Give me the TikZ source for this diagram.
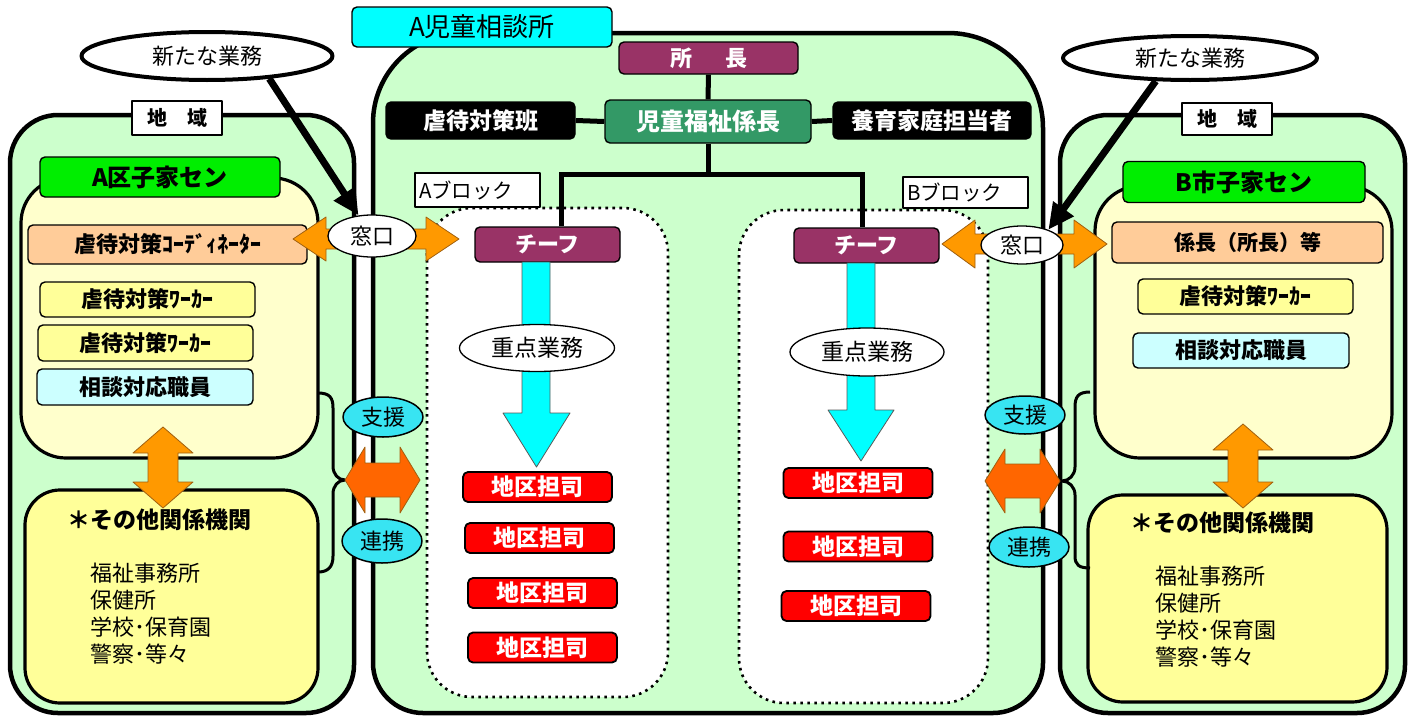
\documentclass[tikz,border=0pt]{standalone}
\usepackage{fontspec}
\setmainfont{Noto Sans CJK JP}
\usetikzlibrary{shapes.geometric,arrows.meta}
\definecolor{pgreen}{HTML}{CCFFCC}
\definecolor{pyellow}{HTML}{FFFFCC}
\definecolor{dyellow}{HTML}{FFFF99}
\definecolor{lcyan}{HTML}{CCFFFF}
\definecolor{peach}{HTML}{FFCC99}
\definecolor{lgreen}{HTML}{00EE00}
\definecolor{aqua}{HTML}{00FFFF}
\definecolor{ecyan}{HTML}{38E4F2}
\definecolor{plum}{HTML}{993366}
\definecolor{sea}{HTML}{339966}
\definecolor{ored}{HTML}{FF0000}
\definecolor{orng}{HTML}{FF9900}
\definecolor{dorng}{HTML}{FF6600}
\definecolor{orline}{HTML}{A06010}
\newcommand{\myfs}[1]{\fontsize{#1}{#1}\selectfont}
\newcommand{\hdarrow}[7]{%
\draw[#7] (#1,#3) -- ({#1+#6},{#3-#5}) -- ({#1+#6},{#3-#4}) -- ({#2-#6},{#3-#4}) -- ({#2-#6},{#3-#5}) -- (#2,#3) -- ({#2-#6},{#3+#5}) -- ({#2-#6},{#3+#4}) -- ({#1+#6},{#3+#4}) -- ({#1+#6},{#3+#5}) -- cycle;}
\newcommand{\vdarrow}[7]{%
\draw[#7] (#3,#1) -- ({#3+#5},{#1+#6}) -- ({#3+#4},{#1+#6}) -- ({#3+#4},{#2-#6}) -- ({#3+#5},{#2-#6}) -- (#3,#2) -- ({#3-#5},{#2-#6}) -- ({#3-#4},{#2-#6}) -- ({#3-#4},{#1+#6}) -- ({#3-#5},{#1+#6}) -- cycle;}
\begin{document}
\begin{tikzpicture}[x=1pt,y=-1pt,line join=round,
  wall/.style={draw=black,line width=4.5pt,fill=pgreen},
  innerp/.style={draw=black,line width=3.2pt,fill=pyellow,rounded corners=45pt},
  lowerp/.style={draw=black,line width=3.2pt,fill=dyellow,rounded corners=35pt},
  brace/.style={draw=black,line width=3pt},
  dotbox/.style={draw=black,fill=white,line width=2.6pt,dash pattern=on 2.6pt off 4.4pt,rounded corners=45pt},
  lab/.style={draw=black,fill=white,line width=1.5pt,inner sep=0pt},
  box/.style={draw=black,line width=1.4pt,rounded corners=5pt,inner sep=0pt},
  wbox/.style={box,text=white,font=\myfs{22}\bfseries},
  redbox/.style={box,fill=ored,text=white,line width=1.8pt,minimum width=149pt,minimum height=30pt,font=\myfs{23}\bfseries},
  oval/.style={ellipse,draw=black,fill=white,line width=1.3pt,inner sep=0pt},
  cyoval/.style={ellipse,draw=black,fill=ecyan,line width=1.5pt,inner sep=0pt,minimum width=80pt,minimum height=40pt,font=\myfs{22}},
  tree/.style={draw=black,line width=5pt,line join=miter},
  newarrow/.style={draw=black,line width=7pt,-{Triangle[length=26pt,width=24pt]}},
  oarrow/.style={fill=orng,draw=orline,line width=0.8pt},
  darrow/.style={fill=dorng,draw=orline,line width=0.8pt},
  carrow/.style={fill=aqua,draw=black!65,line width=0.8pt}
]
\useasboundingbox (0,0) rectangle (1410,720);
% ---------- outer panels
\draw[wall,rounded corners=48pt] (10,115) rectangle (354,713);
\draw[wall,rounded corners=48pt] (1060,115) rectangle (1405,713);
\draw[wall] (373,663) -- (373,123) .. controls (373,73.3) and (413.3,33) .. (463,33) -- (948,33)
  .. controls (1000.5,33) and (1043,75.5) .. (1043,128) -- (1043,663)
  .. controls (1043,690.6) and (1020.6,713) .. (993,713) -- (423,713)
  .. controls (395.4,713) and (373,690.6) .. (373,663) -- cycle;
% ---------- inner panels
\draw[innerp] (21,178) rectangle (318,458);
\draw[innerp] (1095,186) rectangle (1392,458);
\draw[lowerp] (25,490) rectangle (318,703);
\draw[lowerp] (1088,495) rectangle (1387,702);
% braces
\draw[brace] (318,393) .. controls (330,393) and (333,398) .. (333,408) -- (333,466)
  .. controls (333,474) and (338,480) .. (345,480) .. controls (338,480) and (333,486) .. (333,494)
  -- (333,556) .. controls (333,567) and (328,572) .. (318,572);
\draw[brace] (1090,392) .. controls (1078,392) and (1075,397) .. (1075,407) -- (1075,467)
  .. controls (1075,475) and (1069,481) .. (1062,481) .. controls (1069,481) and (1075,487) .. (1075,495)
  -- (1075,556) .. controls (1075,565) and (1079,568) .. (1090,568);
% ---------- labels of regions
\node[lab,minimum width=90pt,minimum height=34pt,font=\myfs{20}\bfseries] (chiikiL) at (177,118) {地　域};
\node[lab,minimum width=90pt,minimum height=32pt,font=\myfs{20}\bfseries] (chiikiR) at (1227,119) {地　域};
\node[box,fill=lgreen,minimum width=240pt,minimum height=40pt,font=\myfs{24}\bfseries] (kosenA) at (160,177) {A区子家セン};
\node[box,fill=lgreen,minimum width=242pt,minimum height=41pt,font=\myfs{24}\bfseries] (kosenB) at (1244,182) {B市子家セン};
\node[box,fill=peach,minimum width=279pt,minimum height=39pt,font=\myfs{22}\bfseries] (coord) at (167.5,244.5) {虐待対策ｺｰﾃﾞｨﾈｰﾀｰ};
\node[box,fill=peach,minimum width=271pt,minimum height=41pt,font=\myfs{21}\bfseries] (kakari) at (1247.5,242.5) {係長（所長）等};
\node[box,fill=dyellow,minimum width=215pt,minimum height=35pt,font=\myfs{22}\bfseries] (wkA1) at (147.5,299.5) {虐待対策ﾜｰｶｰ};
\node[box,fill=dyellow,minimum width=215pt,minimum height=36pt,font=\myfs{22}\bfseries] (wkA2) at (145.5,343) {虐待対策ﾜｰｶｰ};
\node[box,fill=lcyan,minimum width=216pt,minimum height=36pt,font=\myfs{22}\bfseries] (sodanA) at (145,387) {相談対応職員};
\node[box,fill=dyellow,minimum width=215pt,minimum height=35pt,font=\myfs{22}\bfseries] (wkB) at (1245.5,296.5) {虐待対策ﾜｰｶｰ};
\node[box,fill=lcyan,minimum width=216pt,minimum height=35pt,font=\myfs{22}\bfseries] (sodanB) at (1241,350.5) {相談対応職員};
\node[anchor=west,inner sep=0pt,font=\myfs{23}\bfseries] (otherA) at (67,520) {＊その他関係機関};
\node[anchor=west,inner sep=0pt,font=\myfs{23}\bfseries] (otherB) at (1130,523) {＊その他関係機関};
\node[anchor=north west,inner sep=0pt,align=left,font=\fontsize{22}{27}\selectfont] (listA) at (90,563) {福祉事務所\\保健所\\学校･保育園\\警察･等々};
\node[anchor=north west,inner sep=0pt,align=left,font=\fontsize{22}{27}\selectfont] (listB) at (1155,566) {福祉事務所\\保健所\\学校･保育園\\警察･等々};
% ---------- central
\node[box,fill=aqua,minimum width=260pt,minimum height=40pt,font=\myfs{26}] (jiso) at (482,27) {A児童相談所};
\draw[dotbox] (427,208) rectangle (668,697);
\draw[dotbox] (739,210) rectangle (988,703);
\node[wbox,fill=plum,minimum width=179pt,minimum height=32pt] (shocho) at (708.5,58) {所\hspace{1.5em}長};
\node[wbox,fill=sea,minimum width=206pt,minimum height=43pt,font=\myfs{24}\bfseries] (fukushi) at (708,121.5) {児童福祉係長};
\node[wbox,fill=black,minimum width=189pt,minimum height=37pt,font=\myfs{23}\bfseries] (gyaku) at (480.5,120.5) {虐待対策班};
\node[wbox,fill=black,minimum width=198pt,minimum height=37pt,font=\myfs{23}\bfseries] (youiku) at (932,120.5) {養育家庭担当者};
\node[lab,line width=1.2pt,minimum width=125pt,minimum height=34pt,text width=117pt,align=left,font=\myfs{20.5}] (blkA) at (477.5,190) {Aブロック};
\node[lab,line width=1.2pt,minimum width=125pt,minimum height=31pt,text width=117pt,align=left,font=\myfs{20.5}] (blkB) at (965.5,192.5) {Bブロック};
\node[wbox,fill=plum,minimum width=145pt,minimum height=35pt] (chiefA) at (547.5,244.5) {チーフ};
\node[wbox,fill=plum,minimum width=145pt,minimum height=35pt] (chiefB) at (866.5,245.5) {チーフ};
\draw[tree] (shocho.south) -- (fukushi.north);
\draw[tree] (gyaku.east) -- (fukushi.west);
\draw[tree] (fukushi.east) -- (youiku.west);
\coordinate (jT) at (708,174);
\coordinate (jA) at (561,174);
\coordinate (jB) at (862,174);
\draw[tree] (fukushi.south) -- (jT);
\draw[tree] (jA |- chiefA.north) -- (jA) -- (jB) -- (jB |- chiefB.north);
% cyan arrows
\draw[carrow] (522,262) -- (550,262) -- (550,413) -- (570,413) -- (536.5,467) -- (503,413) -- (522,413) -- cycle;
\draw[carrow] (847,263) -- (875,263) -- (875,410) -- (894,410) -- (861,461) -- (828,410) -- (847,410) -- cycle;
\node[oval,minimum width=155pt,minimum height=47pt,font=\myfs{23}] (juA) at (537,348) {重点業務};
\node[oval,minimum width=154pt,minimum height=48pt,font=\myfs{23}] (juB) at (867,352) {重点業務};
\node[redbox] (cA1) at (537.5,487) {地区担司};
\node[redbox] (cA2) at (539.5,538) {地区担司};
\node[redbox] (cA3) at (542.5,593) {地区担司};
\node[redbox] (cA4) at (542.5,647.5) {地区担司};
\node[redbox] (cB1) at (858,483) {地区担司};
\node[redbox] (cB2) at (858,546.5) {地区担司};
\node[redbox] (cB3) at (856,606) {地区担司};
% ---------- orange arrows
\vdarrow{427}{508}{163}{15}{30}{26}{oarrow}
\vdarrow{424}{508}{1243}{15}{30}{26}{oarrow}
\hdarrow{345}{420}{480}{17}{33}{20}{darrow}
\hdarrow{985}{1060}{481}{17}{32}{20}{darrow}
\hdarrow{293}{459}{239}{10}{22}{33}{oarrow}
\hdarrow{942}{1107}{244}{10}{24}{33}{oarrow}
% ---------- ovals
\node[oval,minimum width=88pt,minimum height=42pt,font=\myfs{22}] (madoL) at (372,236) {窓口};
\node[oval,minimum width=82pt,minimum height=38pt,font=\myfs{22}] (madoR) at (1022,245) {窓口};
\node[cyoval] (shienL) at (383,417) {支援};
\node[cyoval,minimum height=44pt] (renkeiL) at (382,541) {連携};
\node[cyoval,minimum height=38pt] (shienR) at (1025,415) {支援};
\node[cyoval] (renkeiR) at (1029,547) {連携};
\node[oval,line width=4pt,minimum width=251pt,minimum height=48pt,font=\myfs{22}] (nwL) at (207,56) {新たな業務};
\node[oval,line width=4pt,minimum width=254pt,minimum height=44pt,font=\myfs{22}] (nwR) at (1190,58) {新たな業務};
\draw[newarrow] (nwL.-20) -- (madoL);
\draw[newarrow] (nwR.214) -- (madoR.30);
\end{tikzpicture}
\end{document}
